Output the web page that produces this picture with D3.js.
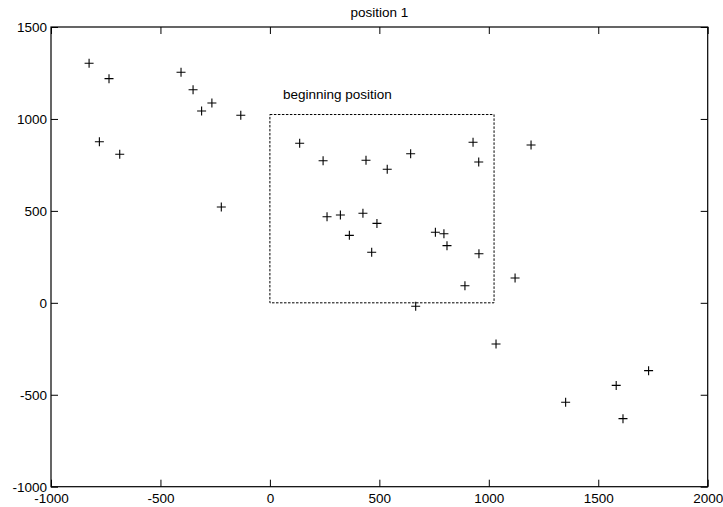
<!DOCTYPE html>
<html>
<head>
<meta charset="utf-8">
<script src="https://cdn.jsdelivr.net/npm/d3@7"></script>
<style>
  html, body { margin: 0; padding: 0; background: #fff; }
  svg { display: block; }
</style>
</head>
<body>
<div id="chart"></div>
<script>
// positions
const xValues = [
  -826, -735, -779, -686, -406, -351, -312, -265, -133, -222,
  136, 243, 439, 536, 643, 928, 954,
  261, 322, 425, 489, 363, 465, 756, 795, 809, 955, 891, 666,
  1120, 1193, 1033, 1730, 1582, 1351, 1613
];
const yValues = [
  1303, 1219, 876, 808, 1254, 1159, 1043, 1087, 1020, 521,
  868, 773, 775, 726, 811, 873, 766,
  468, 478, 487, 432, 367, 275, 384, 376, 311, 267, 93, -19,
  135, 858, -224, -369, -449, -541, -630
];
const xTicks = [-1000, -500, 0, 500, 1000, 1500, 2000];
const yTicks = [-1000, -500, 0, 500, 1000, 1500];
const startBox = [0, 0, 1024, 1024]; // x0, y0, x1, y1
const titleText = "position 1";
const boxLabel = "beginning position";
const boxLabelAt = [60, 1108];

const width = 723;
const height = 507;
const margin = { top: 27, right: 15.3, bottom: 20.3, left: 51 };
const font = 'Arial, "Liberation Sans", Helvetica, sans-serif';

// plain hyphen for negatives, like the original
function plainNumber(d) { return String(d); }

const svg = d3.select("#chart")
  .append("svg")
  .attr("width", width)
  .attr("height", height);

const x = d3.scaleLinear()
  .domain([-1000, 2000])
  .range([margin.left, width - margin.right]);

const y = d3.scaleLinear()
  .domain([-1000, 1500])
  .range([height - margin.bottom, margin.top]);

const tickLen = 7;

// inward ticks on all four sides, matlab style
function styleAxis(g) {
  g.select(".domain").remove();
  g.selectAll(".tick line").attr("stroke", "#000").attr("stroke-width", 1);
  g.selectAll(".tick text")
    .attr("fill", "#000")
    .attr("font-size", 13.5)
    .attr("font-family", font);
}

svg.append("g")
  .attr("transform", "translate(0," + y.range()[0] + ")")
  .call(d3.axisBottom(x).tickValues(xTicks).tickSizeInner(-tickLen).tickSizeOuter(0).tickPadding(7).tickFormat(plainNumber))
  .call(styleAxis);

svg.append("g")
  .attr("transform", "translate(0," + y.range()[1] + ")")
  .call(d3.axisTop(x).tickValues(xTicks).tickSizeInner(-tickLen).tickSizeOuter(0).tickFormat(""))
  .call(styleAxis);

svg.append("g")
  .attr("transform", "translate(" + x.range()[0] + ",0)")
  .call(d3.axisLeft(y).tickValues(yTicks).tickSizeInner(-tickLen).tickSizeOuter(0).tickPadding(4).tickFormat(plainNumber))
  .call(styleAxis);

svg.append("g")
  .attr("transform", "translate(" + x.range()[1] + ",0)")
  .call(d3.axisRight(y).tickValues(yTicks).tickSizeInner(-tickLen).tickSizeOuter(0).tickFormat(""))
  .call(styleAxis);

// axes box
svg.append("rect")
  .attr("x", x.range()[0])
  .attr("y", y.range()[1])
  .attr("width", x.range()[1] - x.range()[0])
  .attr("height", y.range()[0] - y.range()[1])
  .attr("fill", "none")
  .attr("stroke", "#000")
  .attr("stroke-width", 1.2);

// dotted starting area
svg.append("rect")
  .attr("x", x(startBox[0]))
  .attr("y", y(startBox[3]))
  .attr("width", x(startBox[2]) - x(startBox[0]))
  .attr("height", y(startBox[1]) - y(startBox[3]))
  .attr("fill", "none")
  .attr("stroke", "#000")
  .attr("stroke-width", 1)
  .attr("stroke-dasharray", "2.5,1.5");

svg.append("text")
  .attr("x", x(boxLabelAt[0]))
  .attr("y", y(boxLabelAt[1]))
  .attr("fill", "#000")
  .attr("font-size", 13.5)
  .attr("font-family", font)
  .text(boxLabel);

svg.append("text")
  .attr("x", (x.range()[0] + x.range()[1]) / 2)
  .attr("y", 17)
  .attr("text-anchor", "middle")
  .attr("fill", "#000")
  .attr("font-size", 13.5)
  .attr("font-family", font)
  .text(titleText);

// plus markers
const points = xValues.map(function(v, i) { return [v, yValues[i]]; });
const arm = 4.5;

svg.append("g")
  .selectAll("path")
  .data(points)
  .join("path")
  .attr("d", function(d) {
    const cx = x(d[0]);
    const cy = y(d[1]);
    return "M" + (cx - arm) + "," + cy + "H" + (cx + arm) +
      "M" + cx + "," + (cy - arm) + "V" + (cy + arm);
  })
  .attr("stroke", "#000")
  .attr("stroke-width", 1.1)
  .attr("fill", "none");
</script>
</body>
</html>
